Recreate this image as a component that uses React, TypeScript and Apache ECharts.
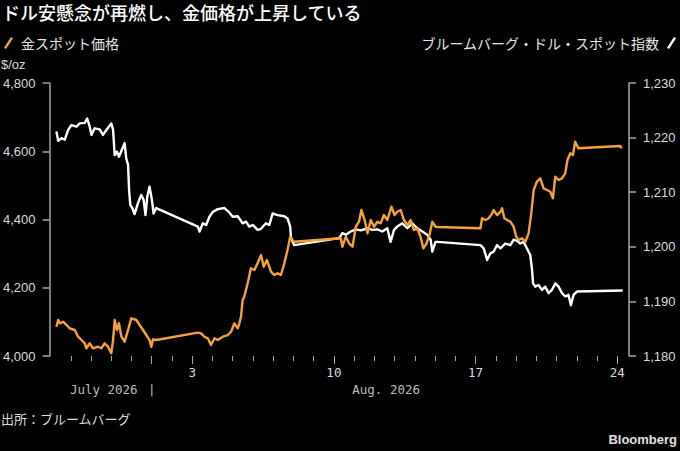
import React, { useEffect, useRef } from "react";
import * as echarts from "echarts";

// ---- Text ----
const TITLE = "ドル安懸念が再燃し、金価格が上昇している";
const UNIT = "$/oz";
const SOURCE = "出所：ブルームバーグ";
const BRAND = "Bloomberg";
const GOLD_NAME = "金スポット価格";
const DOLLAR_NAME = "ブルームバーグ・ドル・スポット指数";

// ---- X axis (days since Aug 1, 2026 00:00) ----
const X_MIN = -5.05;
const X_MAX = 23.58;
const dayTicks = [-4, -3, -2, -1, 0, 1, 2, 3, 4, 5, 6, 7, 8, 9, 10, 11, 12, 13, 14, 15, 16, 17, 18, 19, 20, 21, 22, 23];
const majorTicks = [0, 2, 9, 16, 23];
const dayLabelPos = [2, 9, 16, 23];
const dayLabels = ["3", "10", "17", "24"];
const monthLabelPos = [-2.37, 0, 11.58];
const monthLabels = ["July 2026", "|", "Aug. 2026"];

// ---- Y axes ----
const goldMin = 4000;
const goldMax = 4800;
const goldStep = 200;
const dollarMin = 1180;
const dollarMax = 1230;
const dollarStep = 10;

// ---- Series: [day offset, value] ----
const dollarIndex: [number, number][] = [
  [-4.71, 1221.1], [-4.62, 1219.4], [-4.46, 1219.9], [-4.3, 1219.6], [-4.13, 1221.4], [-3.97, 1222.3],
  [-3.72, 1222.0], [-3.56, 1222.6], [-3.31, 1222.7], [-3.19, 1223.5], [-3.07, 1222.1], [-2.98, 1220.5],
  [-2.82, 1221.7], [-2.57, 1221.5], [-2.41, 1220.5], [-2.24, 1221.4], [-2.0, 1222.6], [-1.91, 1221.4],
  [-1.83, 1216.8], [-1.72, 1217.4], [-1.62, 1216.5], [-1.45, 1218.0], [-1.34, 1219.0], [-1.26, 1216.2],
  [-1.17, 1215.0], [-1.12, 1210.4], [-1.06, 1207.7], [-0.96, 1207.1], [-0.85, 1206.0], [-0.68, 1208.0],
  [-0.52, 1209.5], [-0.4, 1208.6], [-0.31, 1205.8], [-0.22, 1209.2], [-0.11, 1211.0], [0.01, 1208.6],
  [0.09, 1206.1], [0.22, 1207.1],
  [2.28, 1203.7], [2.36, 1202.8], [2.52, 1204.3], [2.69, 1204.0], [2.85, 1205.5], [3.02, 1206.4],
  [3.26, 1206.9], [3.59, 1207.1], [3.83, 1206.3], [4.0, 1205.5], [4.25, 1205.6], [4.49, 1204.3],
  [4.66, 1204.6], [4.82, 1203.7], [4.99, 1204.0], [5.23, 1203.1], [5.4, 1203.3], [5.64, 1204.3],
  [5.81, 1204.0], [5.97, 1206.1], [6.22, 1205.8], [6.55, 1205.6], [6.71, 1205.2], [6.84, 1203.7],
  [6.88, 1201.6], [7.04, 1200.3],
  [9.26, 1201.6], [9.42, 1202.5], [9.59, 1202.2], [9.83, 1202.8], [10.08, 1203.2], [10.33, 1203.0],
  [10.66, 1203.4], [10.9, 1203.1], [11.15, 1203.2], [11.39, 1202.8], [11.64, 1203.4], [11.8, 1200.9],
  [11.97, 1203.1], [12.13, 1203.7], [12.38, 1204.3], [12.63, 1203.4], [12.87, 1204.3], [13.12, 1203.4],
  [13.37, 1202.8], [13.61, 1202.2], [13.78, 1201.3], [13.86, 1199.1], [14.02, 1200.9], [14.12, 1200.9],
  [16.24, 1200.3], [16.4, 1199.7], [16.57, 1197.6], [16.73, 1198.8], [16.89, 1199.1], [17.06, 1200.3],
  [17.23, 1199.7], [17.47, 1200.6], [17.72, 1200.3], [17.88, 1201.3], [18.05, 1201.1], [18.21, 1200.6],
  [18.37, 1200.9], [18.54, 1199.7], [18.7, 1198.5], [18.79, 1195.8], [18.84, 1193.3], [18.95, 1192.7],
  [19.11, 1193.0], [19.28, 1192.1], [19.44, 1192.7], [19.61, 1191.5], [19.77, 1192.1], [19.94, 1193.3],
  [20.1, 1192.7], [20.27, 1191.5], [20.43, 1190.9], [20.59, 1191.2], [20.71, 1189.3], [20.84, 1191.2],
  [21.01, 1191.8],
  [23.27, 1192.0],
];

const goldSpot: [number, number][] = [
  [-4.71, 4085.8], [-4.62, 4105.5], [-4.54, 4095.8], [-4.38, 4100.5], [-4.21, 4090.8], [-4.05, 4081.2],
  [-3.8, 4076.2], [-3.64, 4056.5], [-3.47, 4046.9], [-3.31, 4037.2], [-3.23, 4022.6], [-3.07, 4037.2],
  [-2.9, 4022.6], [-2.65, 4027.2], [-2.49, 4022.6], [-2.33, 4037.2], [-2.16, 4027.2], [-2.0, 4007.9],
  [-1.91, 4046.9], [-1.83, 4105.5], [-1.72, 4076.2], [-1.62, 4095.8], [-1.5, 4056.5], [-1.34, 4041.9],
  [-1.17, 4076.2], [-1.01, 4110.5], [-0.76, 4105.5], [-0.6, 4090.8], [-0.43, 4076.2], [-0.27, 4061.5],
  [-0.11, 4046.9], [-0.02, 4027.2], [0.06, 4048.9], [0.22, 4046.9],
  [2.28, 4068.3], [2.44, 4066.5], [2.6, 4056.5], [2.77, 4051.9], [2.93, 4032.2], [3.1, 4051.9],
  [3.26, 4046.9], [3.51, 4056.5], [3.76, 4061.5], [3.92, 4071.2], [4.08, 4095.8], [4.25, 4081.2],
  [4.33, 4095.8], [4.41, 4115.1], [4.49, 4164.1], [4.57, 4173.7], [4.74, 4213.0], [4.9, 4257.0],
  [5.07, 4252.0], [5.23, 4271.6], [5.4, 4295.9], [5.53, 4261.6], [5.69, 4281.3], [5.89, 4247.0],
  [6.05, 4237.3], [6.22, 4242.3], [6.38, 4237.3], [6.55, 4271.6], [6.71, 4310.6], [6.84, 4349.5],
  [6.96, 4339.9], [7.04, 4334.9],
  [9.34, 4344.9], [9.42, 4320.2], [9.59, 4349.5], [9.75, 4330.2], [9.92, 4320.2], [10.08, 4378.8],
  [10.24, 4393.5], [10.36, 4427.8], [10.52, 4398.5], [10.66, 4359.5], [10.82, 4398.5], [10.98, 4378.8],
  [11.15, 4393.5], [11.31, 4388.8], [11.47, 4413.1], [11.64, 4398.5], [11.84, 4437.4], [12.0, 4413.1],
  [12.13, 4422.8], [12.3, 4427.8], [12.46, 4398.5], [12.63, 4383.8], [12.79, 4398.5], [12.95, 4369.2],
  [13.12, 4374.2], [13.28, 4349.5], [13.42, 4315.6], [13.58, 4330.2], [13.74, 4359.5], [13.86, 4393.5],
  [14.02, 4378.8], [14.12, 4378.0],
  [16.24, 4374.2], [16.32, 4403.5], [16.49, 4398.5], [16.65, 4403.5], [16.82, 4418.1], [16.89, 4427.8],
  [17.06, 4413.1], [17.23, 4422.8], [17.31, 4432.8], [17.42, 4403.5], [17.56, 4398.5], [17.72, 4393.5],
  [17.88, 4378.8], [18.01, 4349.5], [18.13, 4339.9], [18.29, 4344.9], [18.46, 4334.9], [18.62, 4359.5],
  [18.75, 4418.1], [18.87, 4486.4], [19.03, 4510.7], [19.2, 4520.7], [19.36, 4491.4], [19.53, 4486.4],
  [19.69, 4481.4], [19.82, 4462.1], [19.94, 4525.3], [20.1, 4515.7], [20.27, 4520.7], [20.43, 4535.3],
  [20.54, 4574.3], [20.68, 4593.9], [20.81, 4588.9], [20.92, 4627.9], [21.08, 4608.6],
  [23.14, 4615.3], [23.22, 4608.6],
];

const GOLD_COLOR = "#f6a23a";
const DOLLAR_COLOR = "#ffffff";
const JP = "'Noto Sans CJK JP', 'Noto Sans', sans-serif";
const SANS = "'Liberation Sans', 'Noto Sans', sans-serif";
const MONO = "'DejaVu Sans Mono', monospace";
const AXIS_GREY = "#a6a6a6";
const LABEL_GREY = "#dcdcdc";

const slashIcon = "path://M7,0 L9,1.3 L2,12 L0,10.7 Z";

export default function App() {
  const ref = useRef<HTMLDivElement>(null);

  useEffect(() => {
    document.body.style.margin = "0";
    document.body.style.background = "#000";
    const chart = echarts.init(ref.current as HTMLDivElement, null, { renderer: "svg" });

    const xCommon = {
      type: "value",
      min: X_MIN,
      max: X_MAX,
      gridIndex: 0,
      position: "bottom",
      splitLine: { show: false },
      axisLine: { show: false, onZero: false },
    };

    const yCommon = {
      type: "value",
      splitLine: { show: false },
      axisLine: { show: true, onZero: false, lineStyle: { color: AXIS_GREY, width: 1.5 } },
      axisTick: { show: true, length: 7, lineStyle: { color: AXIS_GREY, width: 1.5 } },
      axisLabel: { margin: 14, color: LABEL_GREY, fontSize: 13, fontFamily: SANS },
    };

    chart.setOption({
      animation: false,
      backgroundColor: "#000000",
      title: [
        {
          text: TITLE, left: 2, top: 3, padding: 0,
          textStyle: { color: "#ffffff", fontSize: 18, fontWeight: 500, fontFamily: JP },
        },
        {
          text: UNIT, left: 1, top: 58, padding: 0,
          textStyle: { color: LABEL_GREY, fontSize: 13, fontWeight: "normal", fontFamily: SANS },
        },
        {
          text: SOURCE, left: 1, top: 412, padding: 0,
          textStyle: { color: LABEL_GREY, fontSize: 13, fontWeight: "normal", fontFamily: JP },
        },
        {
          text: BRAND, right: 3, top: 433, padding: 0,
          textStyle: { color: "#e0e0e0", fontSize: 13, fontWeight: "bold", fontFamily: SANS },
        },
      ],
      legend: [
        {
          data: [GOLD_NAME], left: 4, top: 36, padding: 0,
          icon: slashIcon, itemWidth: 9, itemHeight: 12,
          textStyle: { color: "#e6e6e6", fontSize: 14, fontFamily: JP, padding: [0, 0, 0, 3] },
        },
        {
          data: [DOLLAR_NAME], right: 4, top: 36, padding: 0, align: "right",
          icon: slashIcon, itemWidth: 9, itemHeight: 12,
          textStyle: { color: "#e6e6e6", fontSize: 14, fontFamily: JP, padding: [0, 3, 0, 0] },
        },
      ],
      grid: { left: 48, right: 51, top: 83, bottom: 95 },
      xAxis: [
        {
          ...xCommon,
          axisTick: { show: true, customValues: dayTicks, length: 5, lineStyle: { color: AXIS_GREY, width: 1 } },
          axisLabel: { show: false },
        },
        {
          ...xCommon,
          axisTick: { show: true, customValues: majorTicks, length: 8, lineStyle: { color: AXIS_GREY, width: 1 } },
          axisLabel: {
            show: true,
            customValues: dayLabelPos,
            margin: 10,
            color: LABEL_GREY,
            fontSize: 12.5,
            fontFamily: MONO,
            formatter: (v: number) => {
              const i = dayLabelPos.findIndex((p) => Math.abs(p - v) < 0.01);
              return i >= 0 ? dayLabels[i] : "";
            },
          },
        },
        {
          ...xCommon,
          axisTick: { show: false },
          axisLabel: {
            show: true,
            customValues: monthLabelPos,
            margin: 27,
            color: "#bdbdbd",
            fontSize: 12.5,
            fontFamily: MONO,
            formatter: (v: number) => {
              const i = monthLabelPos.findIndex((p) => Math.abs(p - v) < 0.01);
              return i >= 0 ? monthLabels[i] : "";
            },
          },
        },
      ],
      yAxis: [
        { ...yCommon, position: "left", min: goldMin, max: goldMax, interval: goldStep },
        { ...yCommon, position: "right", min: dollarMin, max: dollarMax, interval: dollarStep },
      ],
      series: [
        {
          name: DOLLAR_NAME,
          type: "line",
          xAxisIndex: 0,
          yAxisIndex: 1,
          data: dollarIndex,
          showSymbol: false,
          color: DOLLAR_COLOR,
          itemStyle: { color: DOLLAR_COLOR },
          lineStyle: { color: DOLLAR_COLOR, width: 2.4, join: "round" },
        },
        {
          name: GOLD_NAME,
          type: "line",
          xAxisIndex: 0,
          yAxisIndex: 0,
          data: goldSpot,
          showSymbol: false,
          color: GOLD_COLOR,
          itemStyle: { color: GOLD_COLOR },
          lineStyle: { color: GOLD_COLOR, width: 2.4, join: "round" },
        },
      ],
    });

    return () => chart.dispose();
  }, []);

  return <div ref={ref} style={{ width: 680, height: 451, background: "#000" }} />;
}
